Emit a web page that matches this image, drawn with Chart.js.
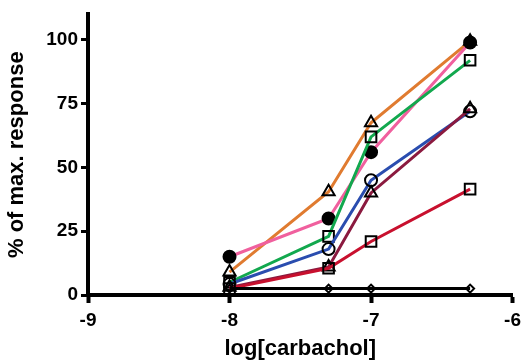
<!DOCTYPE html>
<html>
<head>
<meta charset="utf-8">
<script src="https://cdn.jsdelivr.net/npm/chart.js@4"></script>
<style>
html,body{margin:0;padding:0;background:#fff;}
#wrap{width:527px;height:362px;}
</style>
</head>
<body>
<div id="wrap"><canvas id="c" width="527" height="362"></canvas></div>
<script>
// ---- data ----
const logCarbachol = [-8, -7.3, -7, -6.3];
const xTicks = [-9, -8, -7, -6];
const yTicks = [0, 25, 50, 75, 100];

const pinkFilledCircle = [15, 30, 56, 99];
const orangeTriangle   = [9, 40.5, 67.5, 99.5];
const greenSquare      = [5, 23, 62, 92];
const blueOpenCircle   = [4.3, 18, 45, 72];
const maroonTriangle   = [3, 11, 40, 73];
const redSquare        = [2.5, 10.5, 21, 41.5];
const blackDiamond     = [2.5, 2.5, 2.5, 2.5];

function pts(vals){ return logCarbachol.map((x,i)=>({x:x,y:vals[i]})); }

function ds(vals, color, style, radius, fill){
  return {
    data: pts(vals),
    showLine: true,
    borderColor: color,
    borderWidth: 3,
    pointStyle: style,
    pointRadius: radius,
    pointHoverRadius: radius,
    pointBackgroundColor: fill,
    pointBorderColor: '#000',
    pointBorderWidth: 2,
    tension: 0
  };
}

const FONT = "'Liberation Sans', Arial, sans-serif";

new Chart(document.getElementById('c'), {
  type: 'scatter',
  data: {
    datasets: [
      ds(blackDiamond, '#000000', 'rectRot', 4, 'rgba(0,0,0,0)'),
      ds(redSquare, '#C8102E', 'rect', 7.5, 'rgba(0,0,0,0)'),
      ds(maroonTriangle, '#8B1A3F', 'triangle', 7, 'rgba(0,0,0,0)'),
      ds(blueOpenCircle, '#2A4DAF', 'circle', 6, 'rgba(0,0,0,0)'),
      ds(greenSquare, '#12A84E', 'rect', 7.5, 'rgba(0,0,0,0)'),
      ds(pinkFilledCircle, '#F0609E', 'circle', 6, '#000000'),
      ds(orangeTriangle, '#E07B30', 'triangle', 7, 'rgba(0,0,0,0)')
    ]
  },
  options: {
    responsive: false,
    animation: false,
    layout: { padding: { top: 12, right: 13, left: 0, bottom: 0 } },
    plugins: { legend: { display: false }, tooltip: { enabled: false } },
    scales: {
      x: {
        type: 'linear',
        min: -9, max: -6,
        afterFit: s => { s.height = 67; },
        afterBuildTicks: s => { s.ticks = xTicks.map(v => ({value: v})); },
        ticks: {
          color: '#000', padding: 6,
          font: { family: FONT, size: 19, weight: 'bold' },
          callback: v => String(v)
        },
        grid: { display: true, drawOnChartArea: false, drawTicks: true, tickLength: 8, tickWidth: 4, tickColor: '#000' },
        border: { display: true, color: '#000', width: 4 },
        title: {
          display: true, text: 'log[carbachol]', color: '#000',
          font: { family: FONT, size: 22, weight: 'bold' },
          padding: { top: 0, bottom: 0 }
        }
      },
      y: {
        type: 'linear',
        min: 0, max: 110,
        afterFit: s => { s.width = 88; },
        afterBuildTicks: s => { s.ticks = yTicks.map(v => ({value: v})); },
        ticks: {
          color: '#000', padding: 3,
          font: { family: FONT, size: 19, weight: 'bold' },
          callback: v => String(v)
        },
        grid: { display: true, drawOnChartArea: false, drawTicks: true, tickLength: 7, tickWidth: 3, tickColor: '#000' },
        border: { display: true, color: '#000', width: 4 },
        title: {
          display: true, text: '% of max. response', color: '#000',
          font: { family: FONT, size: 22, weight: 'bold' },
          padding: { top: 4, bottom: 0 }
        }
      }
    }
  }
});
</script>
</body>
</html>
